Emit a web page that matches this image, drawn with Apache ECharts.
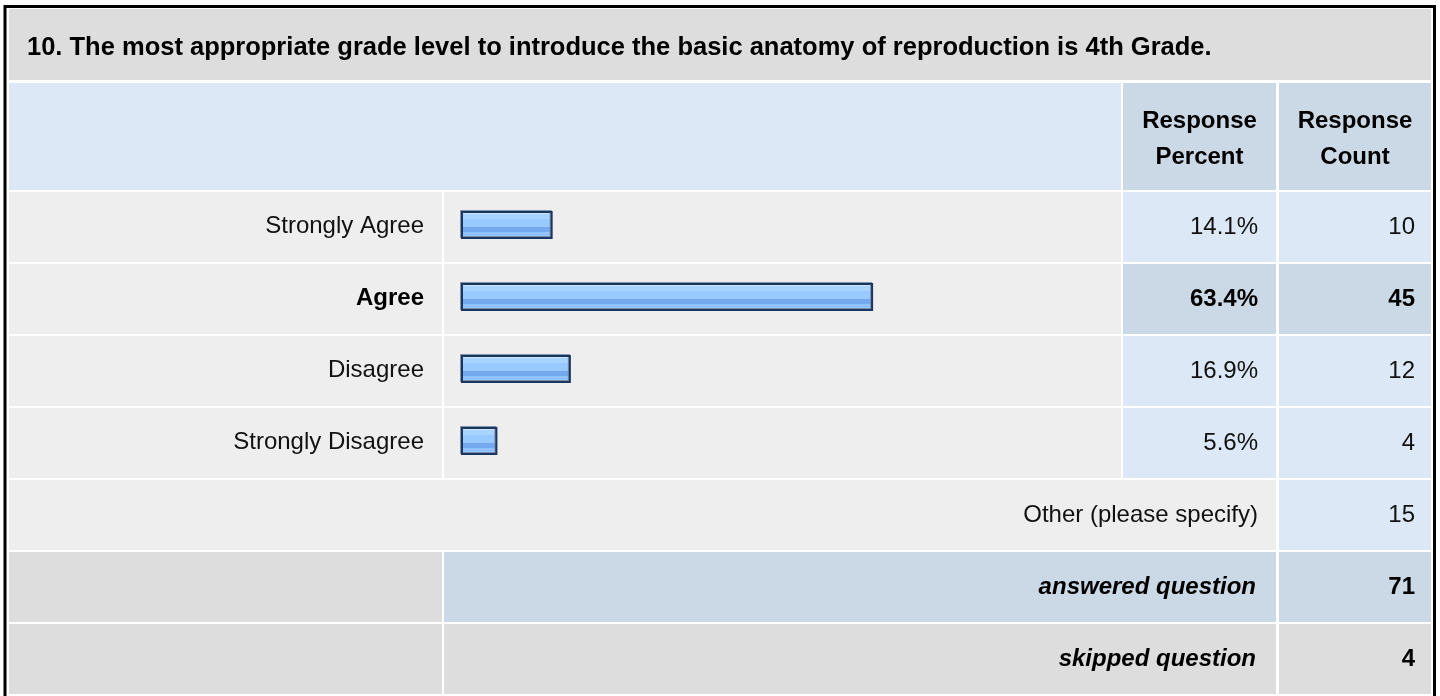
<!DOCTYPE html>
<html><head><meta charset="utf-8">
<script src="https://cdn.jsdelivr.net/npm/echarts@6.0.0/dist/echarts.min.js"></script>
<style>html,body{margin:0;padding:0;background:#fff}#c{width:1440px;height:696px}</style>
</head><body><div id="c"></div>
<script>
const title = '10. The most appropriate grade level to introduce the basic anatomy of reproduction is 4th Grade.';
const categories = ['Strongly Agree', 'Agree', 'Disagree', 'Strongly Disagree'];
const percents = [14.1, 63.4, 16.9, 5.6];
const counts = [10, 45, 12, 4];
const headerLabels = ['Response\nPercent', 'Response\nCount'];
const otherLabel = 'Other (please specify)';
const otherCount = 15;
const summaryLabels = ['answered question', 'skipped question'];
const summaryCounts = [71, 4];

const FONT = "'Liberation Sans', Arial, Helvetica, sans-serif";
const C = {title:'#dddddd', head:'#dce8f5', headDark:'#cbd8e6', row:'#eeeeee', cell:'#dce8f5', cellDark:'#cbd8e6', gray:'#dddddd'};
const X = {l0:9, l1:442, b0:444, b1:1121, p0:1123, p1:1276, c0:1279, c1:1431};
const ROW0 = 192, ROWH = 70, ROWSTEP = 72;
const hi = percents.indexOf(Math.max(...percents));

const g = [];
function rect(x0, x1, y0, y1, fill) {
  g.push({type:'rect', z:0, silent:true, shape:{x:x0, y:y0, width:x1-x0, height:y1-y0}, style:{fill:fill}});
}
function text(x, y, str, align, opt) {
  g.push({type:'text', z:5, silent:true, x:x, y:y,
    style:Object.assign({text:str, align:align, verticalAlign:'middle', fontFamily:FONT, fontSize:24, fill:'#111'}, opt || {})});
}

// outer frame
g.push({type:'rect', z:1, silent:true, shape:{x:5, y:6.5, width:1429.5, height:700}, style:{fill:null, stroke:'#000', lineWidth:3}});
// title
rect(X.l0, X.c1, 9, 80, C.title);
text(27, 48, title, 'left', {fontWeight:'bold', fontSize:25.5, fill:'#000'});
// header
rect(X.l0, X.b1, 83, 190, C.head);
rect(X.p0, X.p1, 83, 190, C.headDark);
rect(X.c0, X.c1, 83, 190, C.headDark);
text((X.p0 + X.p1) / 2, 139.5, headerLabels[0], 'center', {fontWeight:'bold', lineHeight:36, fill:'#000'});
text((X.c0 + X.c1) / 2, 139.5, headerLabels[1], 'center', {fontWeight:'bold', lineHeight:36, fill:'#000'});
// data rows
categories.forEach(function (c, i) {
  const y0 = ROW0 + ROWSTEP * i, y1 = y0 + ROWH;
  const dark = i === hi;
  rect(X.l0, X.l1, y0, y1, C.row);
  rect(X.b0, X.b1, y0, y1, C.row);
  rect(X.p0, X.p1, y0, y1, dark ? C.cellDark : C.cell);
  rect(X.c0, X.c1, y0, y1, dark ? C.cellDark : C.cell);
  const o = dark ? {fontWeight:'bold', fill:'#000'} : {};
  text(1258, y0 + 35, percents[i].toFixed(1) + '%', 'right', o);
  text(1415, y0 + 35, String(counts[i]), 'right', o);
});
// other row
(function () {
  const y0 = ROW0 + ROWSTEP * 4, y1 = y0 + ROWH;
  rect(X.l0, X.p1, y0, y1, C.row);
  rect(X.c0, X.c1, y0, y1, C.cell);
  text(1258, y0 + 35, otherLabel, 'right');
  text(1415, y0 + 35, String(otherCount), 'right');
})();
// summary rows
summaryLabels.forEach(function (s, k) {
  const y0 = ROW0 + ROWSTEP * (5 + k), y1 = y0 + ROWH;
  const fill = k === 0 ? C.headDark : C.gray;
  rect(X.l0, X.l1, y0, y1, C.gray);
  rect(X.b0, X.p1, y0, y1, fill);
  rect(X.c0, X.c1, y0, y1, fill);
  text(1256, y0 + 35, s, 'right', {fontWeight:'bold', fontStyle:'italic', fill:'#000'});
  text(1415, y0 + 35, String(summaryCounts[k]), 'right', {fontWeight:'bold', fill:'#000'});
});

const barGradient = new echarts.graphic.LinearGradient(0, 0, 0, 1, [
  {offset:0.00, color:'#c8e4ff'}, {offset:0.115, color:'#c8e4ff'},
  {offset:0.115, color:'#a8d4ff'}, {offset:0.27, color:'#a8d4ff'},
  {offset:0.27, color:'#98caff'}, {offset:0.56, color:'#98caff'},
  {offset:0.56, color:'#74a9f0'}, {offset:0.756, color:'#74a9f0'},
  {offset:0.756, color:'#90c3fc'}, {offset:0.885, color:'#90c3fc'},
  {offset:0.885, color:'#a6d0ff'}, {offset:1.0, color:'#a6d0ff'}
]);

const chart = echarts.init(document.getElementById('c'), null, {renderer:'canvas'});
chart.setOption({
  animation:false,
  backgroundColor:'#ffffff',
  graphic:{elements:g},
  grid:{left:461, top:189, width:650, height:288, containLabel:false},
  xAxis:{type:'value', min:0, max:100, show:false},
  yAxis:{type:'category', inverse:true, data:categories,
    axisLine:{show:false}, axisTick:{show:false}, splitLine:{show:false},
    axisLabel:{margin:37, fontSize:24, fontFamily:FONT, color:'#111', padding:[3, 0, 0, 0],
      formatter:function (v, i) { return i === hi ? '{b|' + v + '}' : v; },
      rich:{b:{fontWeight:'bold', fontSize:24, fontFamily:FONT, color:'#000'}}}},
  series:[{type:'bar', data:percents, barWidth:28, silent:true, z:10,
    itemStyle:{color:barGradient, borderColor:'#1c355e', borderWidth:2,
      shadowColor:'rgba(120,138,165,0.9)', shadowBlur:0, shadowOffsetX:-1, shadowOffsetY:-1}}]
});
</script></body></html>
